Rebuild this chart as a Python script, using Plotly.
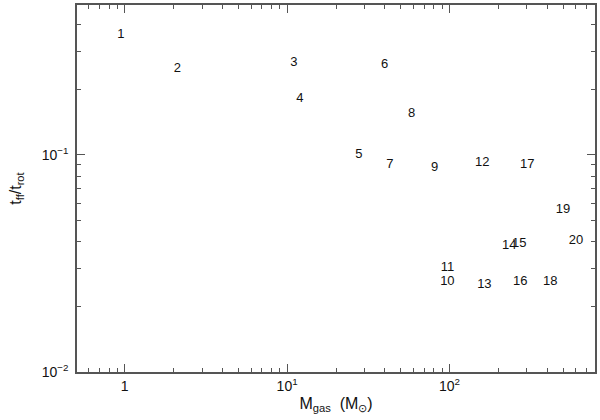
import plotly.graph_objects as go

# cloud id numbers, gas mass (Msun) and tff/trot ratio
labels = [str(i) for i in range(1, 21)]
m_gas = [0.945, 2.11, 11.0, 12.0, 27.7, 39.9, 42.9, 58.5, 80.9, 97.0,
         97.2, 159, 164, 233, 269, 273, 301, 417, 500, 601]
t_ratio = [0.357, 0.249, 0.265, 0.181, 0.100, 0.260, 0.090, 0.155, 0.0871, 0.0260,
           0.0301, 0.0918, 0.0252, 0.0381, 0.0389, 0.0260, 0.090, 0.0260, 0.0558, 0.0402]

x_tickvals = [1, 10, 100]
x_ticktext = ["1", "10<sup>1</sup>", "10<sup>2</sup>"]
y_tickvals = [0.01, 0.1]
y_ticktext = ["10<sup>\u22122</sup>", "10<sup>\u22121</sup>"]

family = "Liberation Sans, Arial, sans-serif"
font = dict(family=family, size=13, color="#111")
title_font = dict(family=family, size=16, color="#111")
axis_col = "#555"

fig = go.Figure(go.Scatter(
    x=m_gas, y=t_ratio,
    mode="text",
    text=labels,
    textposition="middle center",
    textfont=font,
    hoverinfo="skip",
))

common = dict(
    type="log",
    showgrid=False,
    zeroline=False,
    showline=True,
    linecolor=axis_col,
    linewidth=1.5,
    mirror="allticks",
    ticks="inside",
    ticklen=8,
    tickwidth=1.2,
    tickcolor=axis_col,
    tickfont=dict(family=family, size=14, color="#111"),
    tickmode="array",
    minor=dict(ticks="inside", ticklen=4, tickwidth=1.2, tickcolor=axis_col,
               dtick="D1", showgrid=False),
)

fig.update_xaxes(
    range=[-0.294, 2.896],
    tickvals=x_tickvals, ticktext=x_ticktext,
    title=dict(text="M<sub>gas</sub>  (M<sub>\u2299</sub>)", font=title_font, standoff=5),
    **common,
)
fig.update_yaxes(
    range=[-2, -0.309],
    tickvals=y_tickvals, ticktext=y_ticktext,
    ticklabelstandoff=4,
    title=dict(text="t<sub>ff</sub>/t<sub>rot</sub>", font=title_font, standoff=16),
    **common,
)

fig.update_layout(
    width=600, height=420,
    margin=dict(l=77, r=3, t=5, b=48),
    paper_bgcolor="white",
    plot_bgcolor="white",
    showlegend=False,
)

# drop the default page margin so the figure sits at the window corner
fig.write_html("out.html", config={"displayModeBar": False},
               post_script="document.body.style.margin='0';")
